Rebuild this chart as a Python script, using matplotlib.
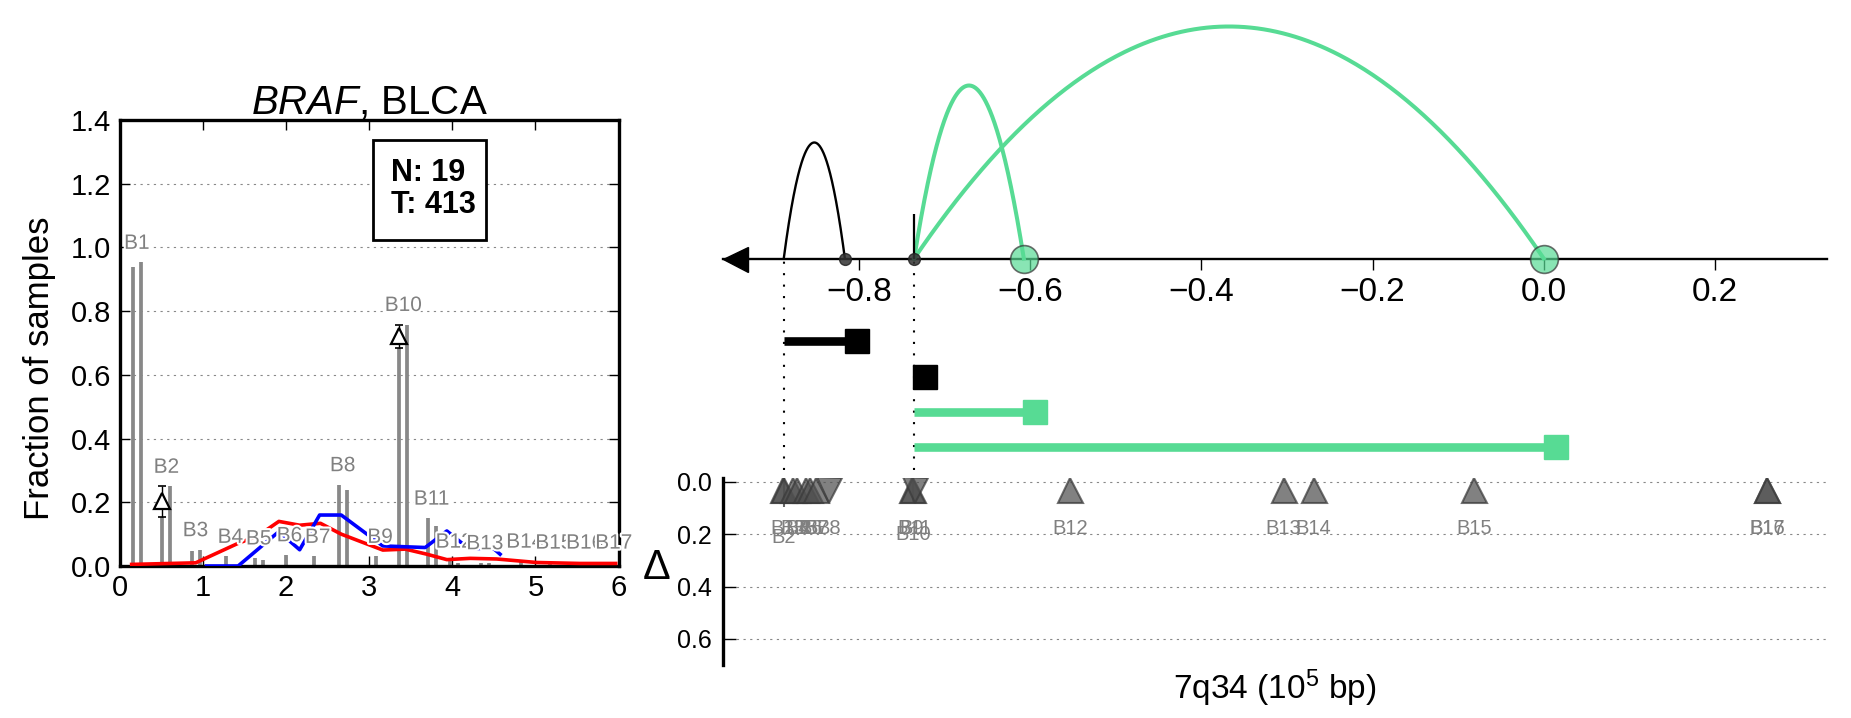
import numpy as np
import matplotlib
matplotlib.use('Agg')
import matplotlib.pyplot as plt
import matplotlib.patheffects as pe
from matplotlib.patches import Rectangle

plt.rcParams['font.family'] = ['Liberation Sans', 'DejaVu Sans']
plt.rcParams['mathtext.fontset'] = 'custom'
plt.rcParams['mathtext.rm'] = 'Liberation Sans'
plt.rcParams['mathtext.it'] = 'Liberation Sans:italic'
plt.rcParams['mathtext.bf'] = 'Liberation Sans:bold'

# ---------------- left panel data ----------------
bin_labels = ['B%d' % i for i in range(1, 18)]
bin_x = [0.16, 0.515, 0.865, 1.285, 1.625, 1.995, 2.335, 2.635, 3.085, 3.365,
         3.705, 3.975, 4.345, 4.825, 5.175, 5.545, 5.895]
bar_a = [0.94, 0.155, 0.046, 0.03, 0.025, 0.035, 0.03, 0.255, 0.03, 0.684,
         0.15, 0.015, 0.01, 0.015, 0.012, 0.012, 0.012]
bar_b = [0.953, 0.25, 0.051, 0.0, 0.02, 0.0, 0.0, 0.24, 0.0, 0.758, 0.124,
         0.01, 0.01, 0.0, 0.0, 0.0, 0.0]
delta_bins = ['B2', 'B10']
delta_val = [0.2025, 0.721]
delta_err = [0.048, 0.037]

red_x = [0.145, 0.915, 1.415, 1.665, 1.915, 2.165, 2.415, 2.665, 2.915, 3.165,
         3.435, 3.695, 3.935, 4.215, 4.535, 5.015, 5.535, 5.965]
red_y = [0.005, 0.01, 0.07, 0.095, 0.14, 0.128, 0.134, 0.10, 0.075, 0.05,
         0.053, 0.037, 0.02, 0.024, 0.022, 0.011, 0.008, 0.008]
blue_x = [1.045, 1.425, 1.915, 2.165, 2.405, 2.665, 3.165, 3.675, 3.935, 4.195,
          4.495, 4.575]
blue_y = [0.0, 0.0, 0.108, 0.051, 0.16, 0.16, 0.063, 0.058, 0.11, 0.055,
          0.055, 0.037]
n_count = 19
t_count = 413

# ---------------- right panel data ----------------
green = '#57DB94'
arc_start = [-0.888, -0.7356, -0.7356]
arc_end = [-0.8166, -0.6075, 0.0]
arc_height = [116, 173, 232]
arc_color = ['black', green, green]
small_end_x = [-0.8166, -0.7356]
big_end_x = [-0.6075, 0.0]
seg_start = [-0.888, -0.7356, -0.7356, -0.7356]
seg_end = [-0.803, -0.723, -0.594, 0.0149]
seg_color = ['black', 'black', green, green]
guide_x = [-0.888, -0.7356]
break_x = [-0.7356]

tri_x = [-0.889, -0.888, -0.877, -0.872, -0.862, -0.857, -0.850, -0.835,
         -0.738, -0.737, -0.735, -0.553, -0.304, -0.269, -0.081, 0.261, 0.261]
tri_dir = ['^', '^', '^', '^', '^', '^', '^', 'v', '^', '^', 'v', '^', '^',
           '^', '^', '^', '^']
tri_y = 0.03
tri_err = {'B2': 0.065, 'B10': 0.045}

# ---------------- figure ----------------
W, H = 1851, 718
fig = plt.figure(figsize=(W / 100, H / 100), dpi=100)
lab_gray = '#808080'

# ===== left panel =====
ax1 = fig.add_axes([119.6 / W, 1 - 566 / H, (618.6 - 119.6) / W, (566 - 120) / H])
ax1.set_xlim(0, 6)
ax1.set_ylim(0, 1.4)
ax1.yaxis.grid(True, linestyle=(0, (2, 4)), color='#888888', lw=0.8)
ax1.set_axisbelow(True)
bar_gap = 0.096
for x, a, b in zip(bin_x, bar_a, bar_b):
    ax1.vlines([x], 0, a, color='#888888', lw=2.7, zorder=2)
    ax1.vlines([x + bar_gap], 0, b, color='#888888', lw=2.7, zorder=2)
ax1.plot(red_x, red_y, color='red', lw=2.6, zorder=3)
ax1.plot(blue_x, blue_y, color='blue', lw=2.6, zorder=3)
for lab, x, a, b in zip(bin_labels, bin_x, bar_a, bar_b):
    top = max(a, b)
    ax1.text(x + bar_gap / 2, top + 0.03, lab, ha='center', va='bottom',
             fontsize=15, color=lab_gray, zorder=4,
             path_effects=[pe.withStroke(linewidth=3, foreground='white')])
for lab, v, e in zip(delta_bins, delta_val, delta_err):
    x = bin_x[bin_labels.index(lab)]
    ax1.errorbar([x], [v], yerr=[e], fmt='none', ecolor='black', elinewidth=1,
                 capsize=3, capthick=1.2, zorder=5)
    ax1.plot([x], [v], ls='none', marker='^', ms=12, mfc='white',
             mec='black', mew=1.6, zorder=6)
# count box
ax1.add_patch(Rectangle((0.508, 0.732), 0.226, 0.224, transform=ax1.transAxes,
                        fc='white', ec='black', lw=2, zorder=7))
ax1.text(0.543, 0.846, 'N: %d\nT: %d' % (n_count, t_count),
         transform=ax1.transAxes, fontsize=22, fontweight='bold', ha='left',
         va='center', zorder=8, linespacing=1.1)
ax1.set_xticks(range(0, 7))
ax1.set_yticks(np.arange(0, 1.41, 0.2))
ax1.set_yticklabels(['%.1f' % v for v in np.arange(0, 1.41, 0.2)])
ax1.tick_params(direction='in', length=7, width=1, top=True, right=True,
                labelsize=21, pad=6)
for sp in ax1.spines.values():
    sp.set_linewidth(2.4)
ax1.set_title(r'$\mathit{BRAF}$, BLCA', fontsize=29, pad=4)
ax1.set_ylabel('Fraction of samples', fontsize=25, va='center')
ax1.yaxis.set_label_coords(-0.16, 0.444)

# ===== right panel: genomic axis with arcs =====
ax2 = fig.add_axes([723 / W, 1 - 470 / H, 1104 / W, 470 / H])
ax2.set_xlim(-0.959, 0.331)
ax2.set_ylim(-211.5, 258.5)
ax2.patch.set_alpha(0)
for s in ['left', 'right', 'top']:
    ax2.spines[s].set_visible(False)
ax2.spines['bottom'].set_position(('data', 0))
ax2.spines['bottom'].set_linewidth(1.7)
ax2.set_yticks([])
ax2.set_xticks([-0.8, -0.6, -0.4, -0.2, 0.0, 0.2])
ax2.tick_params(axis='x', direction='out', length=8, width=1, labelsize=24,
                pad=5)
x0 = ax2.get_xlim()[0]
ax2.plot([x0 + 0.0146], [0], marker='<', ms=18, color='black',
         clip_on=False, zorder=5)
t = np.linspace(0, 1, 300)
for s, e, h, c in zip(arc_start, arc_end, arc_height, arc_color):
    lw = 1.7 if c == 'black' else 2.9
    ax2.plot(s + (e - s) * t, 4 * h * t * (1 - t), color=c, lw=lw, zorder=3)
ax2.vlines(break_x, 0, 45, color='black', lw=1.6, zorder=4)
ax2.plot(small_end_x, [0] * len(small_end_x), ls='none', marker='o', ms=8.5,
         mfc='#333333', mec='#222222', alpha=0.85, zorder=6)
ax2.plot(big_end_x, [0] * len(big_end_x), ls='none', marker='o', ms=20,
         mfc=green, mec='#333333', alpha=0.7, mew=1.2, zorder=6)
ybot = ax2.get_ylim()[0]
ax2.vlines(guide_x, ybot, 0, color='black', lw=1.5,
           linestyle=(0, (1, 4.5)), zorder=2)
row_y0, row_step = -82.7, -35.4
for i, (s, e, c) in enumerate(zip(seg_start, seg_end, seg_color)):
    y = row_y0 + row_step * i
    ax2.plot([s, e], [y, y], color=c, lw=6.2, solid_capstyle='butt', zorder=3)
    ax2.plot([e], [y], marker='s', ms=17.5, color=c, mec=c, zorder=4)

# ===== right panel: delta axis =====
ax3 = fig.add_axes([723 / W, 1 - 665 / H, 1104 / W, 187 / H])
ax3.set_xlim(-0.959, 0.331)
ax3.set_ylim(0.70, -0.015)
ax3.patch.set_alpha(0)
for s in ['bottom', 'right', 'top']:
    ax3.spines[s].set_visible(False)
ax3.spines['left'].set_linewidth(2.4)
ax3.set_xticks([])
ax3.set_yticks([0.0, 0.2, 0.4, 0.6])
ax3.set_yticklabels(['0.0', '0.2', '0.4', '0.6'])
ax3.tick_params(axis='y', direction='in', length=9, width=1, labelsize=18,
                pad=8)
ax3.yaxis.grid(True, linestyle=(0, (2, 4)), color='#888888', lw=0.8)
for lab, x, d in zip(bin_labels, tri_x, tri_dir):
    err = tri_err.get(lab, 0.0)
    if err:
        ax3.errorbar([x], [tri_y], yerr=[err], fmt='none', ecolor='#666666',
                     elinewidth=1.5, zorder=3)
    ax3.plot([x], [tri_y], ls='none', marker=d, ms=18, mfc='#505050',
             mec='#3a3a3a', mew=1.5, alpha=0.72, zorder=4)
    ax3.text(x, 0.18 + 0.5 * err, lab, ha='center', va='center', fontsize=14.5,
             color=lab_gray, zorder=5)
ax3.set_xlabel('7q34 (10$^5$ bp)', fontsize=24, labelpad=2)
ax3.set_ylabel('\u0394', fontsize=30, rotation=0, va='center', ha='center')
ax3.yaxis.set_label_coords(-0.06, 0.52)

fig.savefig('out.png', dpi=100)
